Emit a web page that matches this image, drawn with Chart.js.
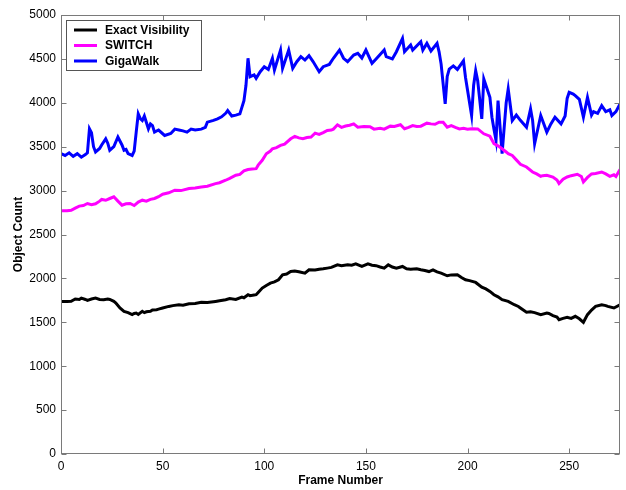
<!DOCTYPE html>
<html>
<head>
<meta charset="utf-8">
<script src="https://cdn.jsdelivr.net/npm/chart.js@4.4.1/dist/chart.umd.min.js"></script>
<style>
  html, body { margin: 0; padding: 0; background: #fff; }
</style>
</head>
<body>
<canvas id="chart" width="626" height="490"></canvas>
<script>
'use strict';

// values, frame -> object count
const exactFrames = [0, 3, 5, 7, 9, 10, 12, 13, 15, 17, 19, 21, 23, 24, 26, 27, 29, 31, 33, 35, 36, 37, 38, 40, 41, 42, 44, 45, 47, 48, 50, 53, 55, 58, 60, 63, 66, 69, 72, 76, 78, 81, 83, 86, 89, 90, 92, 93, 95, 96, 97, 99, 101, 103, 105, 107, 109, 111, 113, 115, 117, 120, 122, 125, 127, 129, 131, 133, 136, 138, 141, 143, 145, 148, 151, 153, 155, 157, 159, 161, 163, 165, 168, 170, 172, 175, 177, 179, 181, 183, 185, 187, 190, 192, 195, 197, 199, 201, 204, 207, 209, 211, 213, 215, 217, 220, 223, 225, 226, 229, 231, 233, 236, 239, 240, 242, 244, 245, 247, 249, 251, 253, 255, 257, 259, 261, 263, 266, 268, 269, 272, 275];
const exactCounts = [1738, 1738, 1740, 1765, 1760, 1775, 1760, 1750, 1765, 1775, 1760, 1757, 1765, 1760, 1738, 1720, 1663, 1625, 1610, 1587, 1600, 1605, 1590, 1625, 1610, 1620, 1625, 1640, 1644, 1650, 1663, 1681, 1690, 1700, 1695, 1712, 1715, 1727, 1725, 1738, 1745, 1757, 1770, 1760, 1788, 1780, 1814, 1803, 1810, 1814, 1840, 1890, 1920, 1946, 1960, 1984, 2041, 2050, 2078, 2085, 2075, 2060, 2098, 2095, 2105, 2110, 2117, 2125, 2154, 2145, 2154, 2150, 2165, 2136, 2165, 2150, 2145, 2130, 2117, 2154, 2130, 2117, 2136, 2110, 2105, 2110, 2098, 2090, 2078, 2098, 2075, 2060, 2030, 2040, 2041, 2010, 1984, 1975, 1954, 1901, 1880, 1852, 1814, 1790, 1757, 1738, 1700, 1680, 1663, 1614, 1620, 1610, 1587, 1606, 1600, 1576, 1560, 1530, 1545, 1557, 1545, 1568, 1540, 1500, 1587, 1640, 1681, 1700, 1690, 1681, 1663, 1700];

const switchFrames = [0, 3, 5, 7, 9, 11, 13, 15, 17, 19, 20, 22, 24, 26, 28, 30, 32, 34, 36, 38, 40, 42, 44, 46, 48, 50, 53, 56, 59, 63, 66, 69, 72, 76, 78, 81, 83, 86, 88, 90, 92, 94, 96, 97, 99, 101, 103, 104, 106, 108, 110, 113, 115, 117, 119, 121, 123, 125, 127, 129, 131, 133, 134, 136, 138, 140, 142, 144, 146, 149, 152, 154, 157, 159, 162, 164, 167, 169, 171, 173, 175, 177, 180, 182, 184, 186, 188, 190, 192, 194, 196, 198, 200, 202, 205, 208, 211, 213, 215, 217, 219, 220, 222, 224, 226, 229, 232, 234, 236, 237, 239, 242, 244, 245, 247, 249, 251, 254, 256, 257, 259, 261, 263, 266, 268, 270, 272, 273, 275];
const switchCounts = [2770, 2770, 2775, 2800, 2823, 2830, 2853, 2840, 2850, 2880, 2899, 2890, 2910, 2929, 2880, 2834, 2850, 2853, 2830, 2870, 2891, 2880, 2900, 2910, 2930, 2959, 2975, 3005, 3000, 3024, 3030, 3042, 3050, 3080, 3090, 3118, 3140, 3175, 3185, 3224, 3240, 3245, 3250, 3290, 3345, 3420, 3450, 3477, 3490, 3515, 3530, 3590, 3617, 3600, 3590, 3605, 3610, 3654, 3640, 3660, 3685, 3690, 3700, 3749, 3720, 3735, 3745, 3760, 3723, 3730, 3727, 3700, 3710, 3700, 3734, 3730, 3750, 3705, 3720, 3740, 3730, 3734, 3768, 3760, 3756, 3779, 3779, 3722, 3740, 3720, 3703, 3710, 3700, 3705, 3703, 3647, 3620, 3534, 3510, 3477, 3440, 3420, 3400, 3350, 3299, 3269, 3212, 3190, 3163, 3170, 3175, 3155, 3120, 3080, 3130, 3155, 3170, 3186, 3160, 3099, 3150, 3190, 3195, 3212, 3190, 3163, 3180, 3160, 3239];

const gigaFrames = [0, 2, 4, 6, 8, 10, 12, 13, 14, 15, 16, 17, 19, 20, 22, 23, 24, 26, 28, 30, 31, 32, 33, 35, 36, 37, 38, 39, 40, 41, 43, 44, 45, 46, 48, 51, 54, 56, 58, 60, 62, 64, 66, 69, 71, 72, 75, 77, 79, 81, 82, 84, 86, 88, 90, 91, 92, 93, 95, 96, 98, 100, 102, 104, 105, 108, 109, 112, 114, 116, 118, 120, 122, 124, 127, 129, 132, 134, 137, 139, 141, 144, 146, 148, 150, 153, 155, 159, 160, 163, 165, 168, 169, 172, 173, 177, 178, 180, 182, 185, 186, 187, 189, 190, 191, 193, 195, 198, 199, 202, 203, 204, 205, 207, 208, 211, 212, 213, 214, 215, 217, 219, 220, 222, 224, 226, 229, 231, 232, 233, 236, 239, 241, 243, 246, 248, 249, 250, 252, 253, 255, 257, 259, 261, 262, 264, 266, 268, 270, 271, 273, 275];
const gigaCounts = [3420, 3400, 3430, 3390, 3420, 3380, 3410, 3430, 3704, 3660, 3500, 3440, 3480, 3520, 3590, 3540, 3460, 3500, 3610, 3520, 3460, 3470, 3420, 3400, 3450, 3666, 3874, 3820, 3798, 3850, 3704, 3760, 3740, 3666, 3690, 3628, 3650, 3700, 3690, 3680, 3666, 3700, 3690, 3700, 3720, 3780, 3800, 3817, 3840, 3880, 3911, 3850, 3860, 3874, 4025, 4200, 4507, 4297, 4317, 4279, 4354, 4411, 4380, 4507, 4374, 4601, 4392, 4601, 4392, 4468, 4525, 4487, 4536, 4470, 4354, 4411, 4437, 4507, 4601, 4507, 4468, 4544, 4563, 4510, 4601, 4449, 4500, 4601, 4525, 4500, 4582, 4734, 4582, 4658, 4600, 4696, 4600, 4677, 4590, 4677, 4580, 4441, 3987, 4300, 4384, 4420, 4380, 4478, 4289, 3855, 4200, 4365, 4250, 3817, 4270, 4062, 3836, 3700, 3571, 4025, 3420, 4000, 4157, 3798, 3860, 3800, 3722, 3930, 3800, 3534, 3855, 3666, 3760, 3836, 3760, 3850, 4050, 4120, 4100, 4082, 4040, 3836, 4062, 3860, 3900, 3880, 3968, 3900, 3920, 3855, 3900, 3987];

const seriesNames = ['Exact Visibility', 'SWITCH', 'GigaWalk'];
const xTicks = [0, 50, 100, 150, 200, 250];
const yTicks = [0, 500, 1000, 1500, 2000, 2500, 3000, 3500, 4000, 4500, 5000];

Chart.defaults.font.family = '"Liberation Sans", Arial, sans-serif';
Chart.defaults.color = '#000';

function toPoints(frames, counts) {
  return frames.map((f, i) => ({ x: f, y: counts[i] }));
}

// matlab style box with inward ticks on all four sides
const axesBox = {
  id: 'axesBox',
  afterDatasetsDraw(chart) {
    const { ctx, chartArea: a, scales } = chart;
    const l = Math.round(a.left) + 0.5;
    const r = Math.round(a.right) - 0.5;
    const t = Math.round(a.top) + 0.5;
    const b = Math.round(a.bottom) - 0.5;
    ctx.save();
    ctx.strokeStyle = '#7a7a7a';
    ctx.lineWidth = 1;
    ctx.strokeRect(l, t, r - l, b - t);
    ctx.beginPath();
    xTicks.forEach(v => {
      const px = Math.round(scales.x.getPixelForValue(v)) + 0.5;
      ctx.moveTo(px, b); ctx.lineTo(px, b - 5);
      ctx.moveTo(px, t); ctx.lineTo(px, t + 5);
    });
    yTicks.forEach(v => {
      const py = Math.round(scales.y.getPixelForValue(v)) + 0.5;
      ctx.moveTo(l, py); ctx.lineTo(l + 5, py);
      ctx.moveTo(r, py); ctx.lineTo(r - 5, py);
    });
    ctx.stroke();
    ctx.restore();
  }
};

const boxLegend = {
  id: 'boxLegend',
  afterDraw(chart) {
    const { ctx } = chart;
    const x0 = 66.5, y0 = 20.5, w = 135, h = 50;
    ctx.save();
    ctx.fillStyle = '#fff';
    ctx.fillRect(x0, y0, w, h);
    ctx.strokeStyle = '#555';
    ctx.lineWidth = 1;
    ctx.strokeRect(x0, y0, w, h);
    ctx.font = 'bold 12px "Liberation Sans", Arial, sans-serif';
    ctx.textBaseline = 'middle';
    chart.data.datasets.forEach((ds, i) => {
      const cy = 30 + i * 15.5;
      ctx.strokeStyle = ds.borderColor;
      ctx.lineWidth = 3;
      ctx.beginPath();
      ctx.moveTo(74, cy);
      ctx.lineTo(97, cy);
      ctx.stroke();
      ctx.fillStyle = '#000';
      ctx.fillText(ds.label, 105, cy + 0.5);
    });
    ctx.restore();
  }
};

function makeLine(label, frames, counts, color) {
  return {
    label: label,
    data: toPoints(frames, counts),
    borderColor: color,
    backgroundColor: color,
    borderWidth: 3,
    pointRadius: 0,
    tension: 0,
  };
}

const config = {
  type: 'line',
  data: {
    datasets: [
      makeLine(seriesNames[0], exactFrames, exactCounts, '#000000'),
      makeLine(seriesNames[1], switchFrames, switchCounts, '#ff00ff'),
      makeLine(seriesNames[2], gigaFrames, gigaCounts, '#0000ff'),
    ],
  },
  options: {
    responsive: false,
    animation: false,
    layout: { padding: { top: 15, right: 6, left: 0, bottom: 0 } },
    plugins: {
      legend: { display: false },
      tooltip: { enabled: false },
    },
    scales: {
      x: {
        type: 'linear',
        min: 0,
        max: 275,
        afterBuildTicks: scale => { scale.ticks = xTicks.map(v => ({ value: v })); },
        afterFit: scale => { scale.height = 36; },
        grid: { display: false, drawTicks: false },
        border: { display: false },
        ticks: { font: { size: 12 }, padding: 5, maxRotation: 0, callback: v => String(v) },
        title: {
          display: true,
          text: 'Frame Number',
          font: { size: 12, weight: 'bold' },
          padding: { top: 0, bottom: 2 },
        },
      },
      y: {
        min: 0,
        max: 5000,
        afterBuildTicks: scale => { scale.ticks = yTicks.map(v => ({ value: v })); },
        afterFit: scale => { scale.width = 61; },
        grid: { display: false, drawTicks: false },
        border: { display: false },
        ticks: { font: { size: 12 }, padding: 5, callback: v => String(v) },
        title: {
          display: true,
          text: 'Object Count',
          font: { size: 12, weight: 'bold' },
          padding: { top: 11, bottom: 0 },
        },
      },
    },
  },
  plugins: [axesBox, boxLegend],
};

new Chart(document.getElementById('chart'), config);
</script>
</body>
</html>
